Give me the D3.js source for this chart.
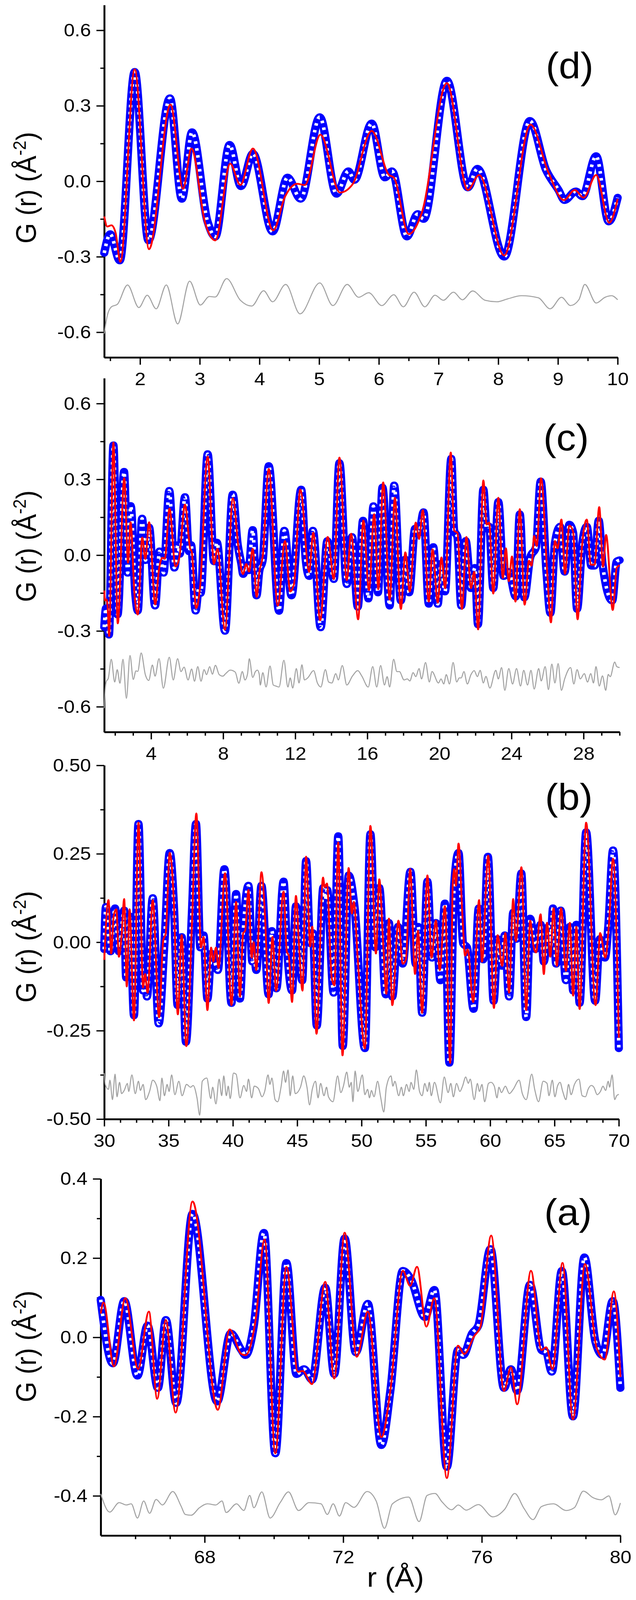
<!DOCTYPE html>
<html>
<head>
<meta charset="utf-8">
<script src="https://cdn.jsdelivr.net/npm/d3@7"></script>
<style>
  html, body { margin: 0; padding: 0; background: #fff; overflow: hidden; }
  svg { display: block; }
  text { font-family: "Liberation Sans", Arial, sans-serif; fill: #000; }
</style>
</head>
<body>
<script>
// ---- data: [r (Å), G(r)] ----
// 1.4 - 10 Å (panel d, also start of panel c)
var obsLow = [[1.40,-0.285],[1.50,-0.21],[1.66,-0.315],[1.91,0.435],[2.14,-0.235],[2.50,0.33],[2.70,-0.07],[2.87,0.195],[3.13,-0.16],[3.26,-0.22],[3.50,0.145],[3.69,-0.02],[3.89,0.11],[4.22,-0.20],[4.47,0.015],[4.69,-0.07],[5.01,0.255],[5.29,-0.05],[5.49,0.04],[5.59,0.005],[5.88,0.23],[6.10,0.015],[6.22,0.04],[6.47,-0.22],[6.65,-0.13],[6.75,-0.15],[7.14,0.40],[7.49,-0.025],[7.65,0.05],[8.10,-0.30],[8.53,0.24],[8.80,0.045],[9.01,-0.035],[9.11,-0.075],[9.30,-0.04],[9.41,-0.06],[9.64,0.10],[9.85,-0.16],[10.0,-0.065]];
var calcLow = [[1.40,-0.14],[1.45,-0.18],[1.52,-0.175],[1.59,-0.205],[1.67,-0.32],[1.91,0.445],[2.15,-0.27],[2.51,0.305],[2.72,-0.03],[2.86,0.13],[3.09,-0.165],[3.26,-0.235],[3.51,0.07],[3.68,-0.015],[3.89,0.13],[4.23,-0.195],[4.43,-0.06],[4.63,-0.01],[4.76,-0.015],[5.02,0.185],[5.35,-0.045],[5.56,-0.012],[5.88,0.20],[6.17,0.025],[6.25,0.015],[6.50,-0.21],[6.72,-0.125],[7.14,0.39],[7.49,-0.035],[7.68,0.025],[8.10,-0.295],[8.54,0.225],[8.84,0.035],[9.10,-0.075],[9.28,-0.035],[9.43,-0.065],[9.64,0.025],[9.86,-0.165],[10.0,-0.07]];
var diffLow = [[1.40,-0.606],[1.45,-0.535],[1.52,-0.499],[1.62,-0.489],[1.79,-0.412],[1.98,-0.502],[2.12,-0.453],[2.27,-0.507],[2.44,-0.412],[2.63,-0.567],[2.83,-0.397],[3.01,-0.492],[3.16,-0.458],[3.26,-0.46],[3.45,-0.387],[3.68,-0.473],[3.87,-0.496],[4.07,-0.435],[4.22,-0.479],[4.44,-0.41],[4.68,-0.527],[5.01,-0.404],[5.23,-0.494],[5.47,-0.41],[5.66,-0.461],[5.83,-0.443],[6.05,-0.494],[6.25,-0.451],[6.41,-0.499],[6.59,-0.441],[6.77,-0.499],[6.94,-0.453],[7.08,-0.473],[7.25,-0.441],[7.40,-0.471],[7.57,-0.436],[7.78,-0.473],[7.98,-0.479],[8.15,-0.468],[8.39,-0.455],[8.67,-0.463],[8.87,-0.507],[9.06,-0.461],[9.21,-0.494],[9.35,-0.471],[9.45,-0.41],[9.64,-0.484],[9.79,-0.461],[9.90,-0.455],[10.0,-0.471]];

// 10 - 30 Å (panel c)
var obsMid = [[10.20,-0.017],[10.53,0.353],[11.10,-0.221],[11.39,0.097],[11.79,-0.16],[12.33,0.26],[12.58,-0.017],[12.77,-0.083],[12.98,0.097],[13.41,-0.286],[13.78,0.056],[14.14,-0.095],[14.45,0.365],[14.86,-0.115],[15.15,0.072],[15.47,-0.205],[15.76,0.137],[16.06,-0.172],[16.34,0.194],[16.59,-0.148],[16.84,0.268],[17.24,-0.20],[17.49,0.276],[17.86,-0.18],[18.11,-0.017],[18.32,-0.148],[18.65,0.105],[18.87,0.089],[19.12,0.17],[19.41,-0.193],[19.66,0.032],[19.91,-0.193],[20.09,-0.034],[20.31,-0.144],[20.66,0.382],[20.82,0.097],[21.0,0.072],[21.21,-0.20],[21.46,0.056],[21.75,-0.131],[21.97,-0.05],[22.14,-0.274],[22.44,0.26],[22.62,0.105],[22.76,0.113],[22.99,-0.131],[23.27,0.211],[23.56,-0.083],[23.85,-0.066],[24.24,-0.164],[24.46,0.162],[24.71,-0.168],[25.04,-0.009],[25.36,0.032],[25.62,0.292],[25.94,-0.066],[26.16,-0.229],[26.41,0.048],[26.70,0.113],[26.95,-0.066],[27.21,0.121],[27.42,0.089],[27.64,-0.213],[27.93,0.048],[28.18,0.113],[28.43,-0.042],[28.61,-0.042],[28.84,0.137],[29.05,-0.034],[29.59,-0.18],[29.84,-0.025],[30.0,-0.02]];
var calcMid = [[10.20,-0.001],[10.53,0.341],[11.03,-0.20],[11.43,0.056],[11.72,-0.144],[11.93,-0.115],[12.28,0.26],[12.77,-0.066],[13.0,0.089],[13.38,-0.258],[13.80,0.072],[14.14,-0.095],[14.45,0.386],[14.86,-0.099],[15.10,0.085],[15.49,-0.254],[15.78,0.137],[16.09,-0.139],[16.38,0.162],[16.61,-0.135],[16.88,0.288],[17.24,-0.176],[17.53,0.227],[17.86,-0.213],[18.11,0.011],[18.35,-0.144],[18.69,0.129],[18.87,0.064],[19.08,0.178],[19.41,-0.184],[19.62,0.023],[19.91,-0.188],[20.11,-0.009],[20.32,-0.131],[20.63,0.406],[20.82,0.097],[21.0,0.088],[21.25,-0.213],[21.50,0.072],[21.75,-0.131],[21.93,-0.066],[22.15,-0.294],[22.44,0.296],[22.62,0.121],[22.76,0.129],[22.99,-0.152],[23.27,0.227],[23.52,-0.09],[23.69,0.027],[23.85,-0.103],[24.03,-0.005],[24.22,-0.184],[24.46,0.182],[24.73,-0.196],[24.97,-0.022],[25.11,-0.042],[25.26,0.076],[25.40,0.036],[25.64,0.304],[25.98,-0.066],[26.19,-0.266],[26.41,0.056],[26.56,0.027],[26.77,0.141],[26.97,-0.074],[27.21,0.117],[27.42,0.093],[27.67,-0.254],[27.89,0.015],[28.18,0.141],[28.40,-0.038],[28.61,-0.038],[28.87,0.19],[29.08,-0.046],[29.25,0.08],[29.62,-0.217],[29.84,-0.05],[30.0,-0.04]];
var diffMid = [[10.06,-0.514],[10.20,-0.465],[10.38,-0.522],[10.60,-0.439],[10.78,-0.514],[10.92,-0.518],[11.10,-0.522],[11.37,-0.416],[11.59,-0.522],[11.72,-0.486],[11.86,-0.526],[12.06,-0.449],[12.21,-0.506],[12.37,-0.434],[12.51,-0.494],[12.69,-0.486],[13.02,-0.457],[13.23,-0.506],[13.42,-0.522],[13.67,-0.453],[13.85,-0.502],[14.03,-0.506],[14.25,-0.469],[14.39,-0.494],[14.61,-0.437],[14.86,-0.514],[15.18,-0.478],[15.47,-0.457],[15.69,-0.478],[16.05,-0.522],[16.30,-0.441],[16.52,-0.522],[16.74,-0.437],[16.95,-0.514],[17.10,-0.481],[17.24,-0.522],[17.46,-0.412],[17.64,-0.461],[17.78,-0.461],[18.04,-0.494],[18.22,-0.49],[18.36,-0.498],[18.54,-0.465],[18.69,-0.481],[18.87,-0.449],[19.01,-0.49],[19.23,-0.425],[19.44,-0.502],[19.59,-0.461],[19.95,-0.506],[20.09,-0.49],[20.24,-0.51],[20.38,-0.473],[20.56,-0.51],[20.76,-0.425],[20.96,-0.502],[21.10,-0.486],[21.21,-0.486],[21.36,-0.461],[21.55,-0.51],[21.75,-0.473],[21.93,-0.457],[22.11,-0.481],[22.26,-0.456],[22.44,-0.506],[22.58,-0.48],[22.80,-0.526],[23.13,-0.456],[23.27,-0.49],[23.45,-0.445],[23.63,-0.535],[23.85,-0.449],[24.06,-0.51],[24.28,-0.449],[24.50,-0.518],[24.68,-0.456],[24.89,-0.514],[25.08,-0.456],[25.26,-0.53],[25.51,-0.449],[25.65,-0.498],[25.87,-0.441],[26.05,-0.532],[26.24,-0.431],[26.41,-0.506],[26.59,-0.429],[26.77,-0.535],[26.95,-0.49],[27.28,-0.445],[27.46,-0.51],[27.64,-0.453],[27.82,-0.49],[28.04,-0.469],[28.22,-0.502],[28.40,-0.469],[28.55,-0.506],[28.69,-0.441],[28.87,-0.518],[29.05,-0.478],[29.23,-0.535],[29.37,-0.472],[29.48,-0.481],[29.73,-0.423],[29.84,-0.441],[30.0,-0.445]];

// 30 - 70 Å (panel b)
var obsHigh = [[30.0,-0.02],[30.13,0.10],[30.49,-0.026],[30.84,0.096],[31.14,-0.026],[31.55,0.09],[31.70,-0.10],[32.0,0.073],[32.31,-0.207],[32.66,0.335],[33.02,-0.137],[33.17,-0.108],[33.32,-0.154],[33.77,0.125],[34.23,-0.23],[34.68,-0.003],[35.09,0.253],[35.44,0.084],[35.70,-0.178],[36.02,0.015],[36.35,-0.282],[36.81,0.079],[37.13,0.335],[37.47,-0.015],[37.72,0.02],[38.02,-0.16],[38.33,-0.032],[38.58,-0.055],[38.83,-0.079],[39.34,0.207],[39.89,-0.172],[40.25,0.137],[40.55,-0.16],[40.80,0.026],[41.21,0.16],[41.51,-0.055],[41.66,-0.04],[41.82,-0.079],[42.22,0.16],[42.78,-0.148],[43.03,0.032],[43.38,-0.131],[43.94,0.172],[44.20,-0.01],[44.60,-0.137],[44.90,0.102],[45.39,-0.108],[45.69,0.23],[46.01,-0.003],[46.22,0.026],[46.52,-0.236],[47.03,0.154],[47.18,0.12],[47.33,0.148],[47.83,-0.143],[48.19,0.30],[48.54,-0.294],[49.0,0.189],[49.45,0.102],[50.26,-0.30],[50.69,0.306],[51.07,-0.015],[51.38,0.154],[51.88,-0.148],[52.13,0.055],[52.39,-0.154],[52.84,0.044],[53.20,-0.061],[53.80,0.20],[54.21,-0.061],[54.41,0.044],[54.71,-0.20],[55.12,0.172],[55.47,-0.044],[55.78,0.055],[56.13,-0.108],[56.48,0.11],[56.83,-0.341],[57.20,0.16],[57.54,0.253],[57.90,-0.003],[58.20,-0.015],[58.71,-0.189],[59.11,0.096],[59.46,-0.049],[59.82,0.242],[60.27,-0.166],[60.58,0.009],[60.88,-0.067],[61.13,0.02],[61.47,-0.154],[61.79,0.084],[62.04,0.009],[62.42,0.195],[62.80,-0.212],[63.11,0.067],[63.51,-0.02],[63.92,0.05],[64.17,-0.055],[64.52,0.044],[64.70,-0.01],[64.88,0.096],[65.13,-0.061],[65.48,0.09],[65.89,-0.108],[66.19,0.044],[66.45,-0.137],[66.70,0.05],[66.95,-0.172],[67.46,0.311],[68.16,-0.166],[68.52,0.009],[68.92,-0.044],[69.18,0.044],[69.55,0.26],[70.0,-0.30]];
var calcHigh = [[30.0,-0.05],[30.33,0.119],[30.54,-0.032],[30.74,0.076],[30.94,0.093],[31.14,-0.041],[31.34,0.015],[31.55,0.122],[31.75,-0.125],[31.97,0.093],[32.31,-0.221],[32.66,0.338],[33.02,-0.128],[33.17,-0.09],[33.37,-0.143],[33.77,0.119],[34.26,-0.212],[34.58,0.003],[34.78,0.026],[35.09,0.253],[35.39,0.131],[35.72,-0.204],[36.02,0.02],[36.38,-0.294],[36.81,0.044],[37.16,0.364],[37.52,-0.015],[37.72,0.015],[38.02,-0.192],[38.31,-0.015],[38.48,-0.055],[38.68,-0.015],[38.88,-0.073],[39.39,0.195],[39.89,-0.178],[40.25,0.114],[40.55,-0.154],[40.80,0.026],[40.95,0.032],[41.21,0.148],[41.46,-0.044],[41.61,0.0],[41.82,-0.079],[42.22,0.198],[42.52,0.055],[42.78,-0.172],[43.08,0.015],[43.36,-0.137],[43.94,0.143],[44.19,-0.026],[44.34,-0.038],[44.60,-0.169],[44.90,0.131],[45.15,-0.015],[45.41,-0.137],[45.69,0.242],[46.01,-0.012],[46.17,0.044],[46.50,-0.259],[47.01,0.183],[47.13,0.155],[47.31,0.166],[47.68,-0.10],[47.89,-0.122],[48.19,0.282],[48.52,-0.32],[49.0,0.21],[49.25,0.081],[49.40,0.114],[49.71,-0.049],[50.26,-0.30],[50.69,0.329],[51.12,-0.032],[51.38,0.178],[51.68,-0.003],[51.93,-0.146],[52.13,0.067],[52.39,-0.178],[52.87,0.061],[53.20,-0.061],[53.45,-0.049],[53.78,0.207],[54.16,-0.09],[54.39,0.032],[54.71,-0.20],[55.12,0.189],[55.44,-0.044],[55.78,0.061],[56.08,-0.079],[56.48,0.102],[56.89,-0.341],[57.09,0.16],[57.22,0.207],[57.34,0.16],[57.54,0.279],[57.85,0.067],[58.05,-0.038],[58.25,-0.02],[58.68,-0.169],[59.14,0.119],[59.36,-0.055],[59.85,0.245],[60.29,-0.186],[60.58,0.02],[60.93,-0.067],[61.18,0.026],[61.47,-0.143],[61.79,0.122],[62.0,0.003],[62.43,0.212],[62.80,-0.192],[63.11,0.061],[63.36,-0.009],[63.56,-0.029],[63.92,0.079],[64.17,-0.09],[64.42,0.055],[64.67,-0.041],[64.93,0.096],[65.18,-0.067],[65.51,0.096],[65.89,-0.081],[66.19,0.055],[66.45,-0.151],[66.70,0.044],[66.95,-0.189],[67.46,0.338],[68.19,-0.178],[68.55,0.026],[68.95,-0.044],[69.23,0.05],[69.55,0.236],[70.0,-0.27]];
var diffHigh = [[30.0,-0.37],[30.08,-0.402],[30.33,-0.416],[30.44,-0.39],[30.64,-0.445],[30.84,-0.373],[30.99,-0.437],[31.19,-0.396],[31.35,-0.428],[31.55,-0.419],[31.80,-0.399],[31.90,-0.422],[32.15,-0.375],[32.41,-0.428],[32.66,-0.393],[32.81,-0.419],[33.02,-0.402],[33.22,-0.445],[33.52,-0.422],[33.77,-0.39],[34.08,-0.407],[34.33,-0.448],[34.48,-0.384],[34.68,-0.434],[34.89,-0.402],[35.04,-0.422],[35.24,-0.375],[35.49,-0.431],[35.80,-0.393],[36.05,-0.434],[36.40,-0.402],[36.71,-0.41],[36.91,-0.405],[37.21,-0.44],[37.42,-0.489],[37.62,-0.393],[37.97,-0.384],[38.28,-0.442],[38.43,-0.41],[38.68,-0.457],[38.93,-0.387],[39.13,-0.434],[39.29,-0.378],[39.49,-0.434],[39.64,-0.407],[39.79,-0.442],[40.05,-0.37],[40.25,-0.373],[40.55,-0.44],[40.85,-0.405],[41.06,-0.422],[41.21,-0.387],[41.46,-0.44],[41.66,-0.407],[41.97,-0.413],[42.27,-0.437],[42.47,-0.422],[42.73,-0.375],[42.88,-0.402],[43.03,-0.384],[43.28,-0.445],[43.48,-0.451],[43.74,-0.41],[43.94,-0.364],[44.09,-0.396],[44.29,-0.361],[44.45,-0.434],[44.65,-0.378],[44.85,-0.428],[45.25,-0.41],[45.51,-0.378],[45.76,-0.41],[45.96,-0.46],[46.17,-0.416],[46.42,-0.393],[46.62,-0.44],[46.82,-0.399],[47.08,-0.434],[47.28,-0.41],[47.43,-0.437],[47.78,-0.451],[48.14,-0.378],[48.39,-0.425],[48.59,-0.407],[48.85,-0.367],[49.05,-0.41],[49.20,-0.396],[49.33,-0.451],[49.50,-0.364],[49.71,-0.422],[50.06,-0.375],[50.26,-0.431],[50.47,-0.416],[50.62,-0.44],[50.77,-0.419],[50.97,-0.437],[51.25,-0.393],[51.48,-0.437],[51.73,-0.48],[51.93,-0.41],[52.29,-0.378],[52.44,-0.407],[52.59,-0.393],[52.89,-0.434],[53.10,-0.41],[53.25,-0.434],[53.50,-0.402],[53.70,-0.422],[53.85,-0.396],[54.06,-0.416],[54.26,-0.361],[54.51,-0.422],[54.71,-0.434],[54.92,-0.399],[55.12,-0.422],[55.27,-0.396],[55.42,-0.434],[55.67,-0.396],[56.13,-0.454],[56.43,-0.381],[56.73,-0.425],[56.94,-0.399],[57.14,-0.437],[57.39,-0.399],[57.64,-0.422],[57.85,-0.407],[58.10,-0.381],[58.30,-0.399],[58.45,-0.387],[58.76,-0.445],[59.01,-0.399],[59.16,-0.422],[59.36,-0.402],[59.57,-0.451],[59.87,-0.399],[60.07,-0.396],[60.32,-0.407],[60.53,-0.44],[60.68,-0.41],[60.88,-0.425],[61.18,-0.407],[61.49,-0.428],[61.79,-0.416],[62.25,-0.39],[62.50,-0.428],[62.80,-0.445],[63.23,-0.373],[63.46,-0.416],[63.76,-0.451],[64.12,-0.393],[64.42,-0.399],[64.57,-0.434],[64.83,-0.39],[65.03,-0.437],[65.23,-0.407],[65.43,-0.396],[65.64,-0.422],[65.89,-0.445],[66.09,-0.402],[66.29,-0.431],[66.55,-0.402],[66.90,-0.387],[67.15,-0.434],[67.41,-0.437],[67.61,-0.416],[67.86,-0.405],[68.06,-0.41],[68.32,-0.431],[68.57,-0.422],[68.77,-0.407],[68.97,-0.419],[69.18,-0.393],[69.28,-0.41],[69.48,-0.375],[69.68,-0.445],[69.83,-0.434],[70.0,-0.43]];

// 65 - 80 Å (panel a)
var obsTail = [[65.0,0.095],[65.35,-0.066],[65.68,0.092],[66.06,-0.097],[66.35,0.03],[66.65,-0.128],[66.88,0.044],[67.18,-0.166],[67.65,0.312],[68.36,-0.162],[68.75,0.01],[69.06,-0.032],[69.18,-0.045],[69.42,0.03],[69.71,0.264],[70.04,-0.293],[70.36,0.188],[70.65,-0.093],[70.87,-0.08],[71.10,-0.107],[71.48,0.126],[71.74,-0.093],[72.04,0.25],[72.36,-0.038],[72.71,0.085],[73.10,-0.272],[73.36,-0.135],[73.72,0.168],[73.95,0.147],[74.36,0.051],[74.63,0.12],[74.99,-0.327],[75.31,-0.032],[75.46,-0.045],[75.72,0.01],[75.90,0.03],[76.25,0.223],[76.64,-0.128],[76.84,-0.08],[77.02,-0.135],[77.39,0.133],[77.72,-0.032],[77.86,-0.038],[78.02,-0.087],[78.31,0.168],[78.63,-0.20],[78.96,0.202],[79.28,-0.011],[79.49,-0.045],[79.78,0.092],[80.0,-0.128]];
var calcTail = [[65.0,0.06],[65.08,0.088],[65.38,-0.073],[65.71,0.099],[66.08,-0.08],[66.39,0.065],[66.63,-0.155],[66.88,0.044],[67.16,-0.19],[67.65,0.343],[68.38,-0.183],[68.72,0.02],[69.06,-0.042],[69.18,-0.045],[69.47,0.044],[69.73,0.247],[70.04,-0.293],[70.36,0.178],[70.69,-0.087],[70.83,-0.085],[71.10,-0.118],[71.48,0.14],[71.74,-0.104],[72.04,0.264],[72.39,-0.049],[72.71,0.065],[73.10,-0.252],[73.36,-0.135],[73.72,0.168],[73.93,0.13],[74.13,0.178],[74.40,0.027],[74.63,0.099],[74.99,-0.355],[75.31,-0.021],[75.49,-0.042],[75.78,0.003],[75.96,0.027],[76.27,0.257],[76.64,-0.135],[76.84,-0.076],[77.02,-0.169],[77.42,0.168],[77.72,-0.032],[77.86,-0.025],[78.04,-0.08],[78.33,0.188],[78.63,-0.207],[78.98,0.185],[79.31,-0.025],[79.55,-0.056],[79.81,0.116],[80.0,-0.10]];
var diffTail = [[65.0,-0.395],[65.26,-0.441],[65.53,-0.417],[65.74,-0.423],[65.88,-0.42],[66.06,-0.456],[66.24,-0.413],[66.41,-0.444],[66.60,-0.409],[66.78,-0.423],[67.08,-0.389],[67.32,-0.426],[67.44,-0.447],[67.61,-0.449],[67.85,-0.43],[68.08,-0.42],[68.32,-0.423],[68.50,-0.413],[68.62,-0.442],[68.92,-0.42],[69.13,-0.437],[69.30,-0.399],[69.42,-0.43],[69.65,-0.39],[69.89,-0.456],[70.18,-0.417],[70.42,-0.39],[70.71,-0.437],[71.01,-0.417],[71.36,-0.42],[71.54,-0.447],[71.71,-0.42],[71.89,-0.451],[72.07,-0.417],[72.31,-0.429],[72.69,-0.389],[72.95,-0.413],[73.19,-0.482],[73.42,-0.42],[73.89,-0.403],[74.19,-0.465],[74.42,-0.399],[74.65,-0.394],[74.85,-0.415],[75.13,-0.435],[75.32,-0.423],[75.55,-0.436],[75.90,-0.422],[76.32,-0.453],[76.66,-0.434],[76.95,-0.394],[77.22,-0.432],[77.48,-0.46],[77.72,-0.427],[78.07,-0.42],[78.43,-0.437],[78.67,-0.43],[78.93,-0.388],[79.22,-0.405],[79.45,-0.41],[79.67,-0.40],[79.85,-0.448],[80.0,-0.418]];

// ---- axis ticks ----
var xMajorD = [2, 3, 4, 5, 6, 7, 8, 9, 10];
var xMinorD = [1.5, 2.5, 3.5, 4.5, 5.5, 6.5, 7.5, 8.5, 9.5];
var xMajorC = [4, 8, 12, 16, 20, 24, 28];
var xMinorC = [2, 3, 5, 6, 7, 9, 10, 11, 13, 14, 15, 17, 18, 19, 21, 22, 23, 25, 26, 27, 29, 30];
var xMajorB = [30, 35, 40, 45, 50, 55, 60, 65, 70];
var xMinorB = [31.25, 32.5, 33.75, 36.25, 37.5, 38.75, 41.25, 42.5, 43.75, 46.25, 47.5, 48.75, 51.25, 52.5, 53.75, 56.25, 57.5, 58.75, 61.25, 62.5, 63.75, 66.25, 67.5, 68.75];
var xMajorA = [68, 72, 76, 80];
var xMinorA = [66, 67, 69, 70, 71, 73, 74, 75, 77, 78, 79];
var yMajorDC = [-0.6, -0.3, 0, 0.3, 0.6];
var yMinorDC = [-0.45, -0.15, 0.15, 0.45];
var yMajorB = [-0.5, -0.25, 0, 0.25, 0.5];
var yMinorB = [-0.375, -0.125, 0.125, 0.375];
var yMajorA = [-0.4, -0.2, 0, 0.2, 0.4];
var yMinorA = [-0.3, -0.1, 0.1, 0.3];
var panelNames = ["(d)", "(c)", "(b)", "(a)"];

// the figure is laid out on a 1629 x 4365 sheet and fitted into the visible window
var W = 1629, H = 4365;
var viewH = Math.min(window.innerHeight || H, H);
var svg = d3.select("body").append("svg")
  .attr("width", W).attr("height", viewH)
  .attr("viewBox", "0 0 " + W + " " + H)
  .attr("preserveAspectRatio", "none");

var panels = [
  { name: panelNames[0], obs: obsLow, calc: calcLow, diff: diffLow,
    xDomain: [1.4, 10], yDomain: [-0.7, 0.7], left: 267, right: 1582, top: 14, bottom: 975,
    xMajor: xMajorD, xMinor: xMinorD, yMajor: yMajorDC, yMinor: yMinorDC, yFmt: ".1f",
    labelX: 1459, labelY: 214, titleY: 512 },
  { name: panelNames[1], obs: obsLow.concat(obsMid), calc: calcLow.concat(calcMid), diff: diffLow.concat(diffMid),
    xDomain: [1.4, 30], yDomain: [-0.7, 0.7], left: 267, right: 1587, top: 1032, bottom: 1997,
    xMajor: xMajorC, xMinor: xMinorC, yMajor: yMajorDC, yMinor: yMinorDC, yFmt: ".1f",
    labelX: 1450, labelY: 1229, titleY: 1490 },
  { name: panelNames[2], obs: obsHigh, calc: calcHigh, diff: diffHigh,
    xDomain: [30, 70], yDomain: [-0.5, 0.5], left: 267, right: 1585, top: 2088, bottom: 3053,
    xMajor: xMajorB, xMinor: xMinorB, yMajor: yMajorB, yMinor: yMinorB, yFmt: ".2f",
    labelX: 1457, labelY: 2209, titleY: 2583 },
  { name: panelNames[3], obs: obsTail, calc: calcTail, diff: diffTail,
    xDomain: [65, 80], yDomain: [-0.5, 0.4], left: 258, right: 1589, top: 3216, bottom: 4189,
    xMajor: xMajorA, xMinor: xMinorA, yMajor: yMajorA, yMinor: yMinorA, yFmt: ".1f",
    labelX: 1455, labelY: 3342, titleY: 3673 }
];

function styleAxis(g) {
  g.selectAll(".domain").attr("stroke", "#000").attr("stroke-width", 4.5);
  g.selectAll(".tick line").attr("stroke", "#000").attr("stroke-width", 3.5);
  g.selectAll(".tick text").attr("font-family", null).style("font-size", "50px").attr("fill", "#000");
}

function drawPanel(p) {
  var x = d3.scaleLinear().domain(p.xDomain).range([p.left, p.right]);
  var y = d3.scaleLinear().domain(p.yDomain).range([p.bottom, p.top]);
  var fmt = function(v) { return d3.format(p.yFmt)(v).replace("\u2212", "-"); };

  var g = svg.append("g");

  // minor ticks first, major on top
  g.append("g").attr("transform", "translate(0," + p.bottom + ")")
    .call(d3.axisBottom(x).tickValues(p.xMinor).tickSize(10).tickSizeOuter(0).tickFormat(""))
    .call(styleAxis);
  g.append("g").attr("transform", "translate(0," + p.bottom + ")")
    .call(d3.axisBottom(x).tickValues(p.xMajor).tickSize(20).tickSizeOuter(0).tickPadding(20).tickFormat(d3.format("d")))
    .call(styleAxis);
  g.append("g").attr("transform", "translate(" + p.left + ",0)")
    .call(d3.axisLeft(y).tickValues(p.yMinor).tickSize(10).tickSizeOuter(0).tickFormat(""))
    .call(styleAxis);
  g.append("g").attr("transform", "translate(" + p.left + ",0)")
    .call(d3.axisLeft(y).tickValues(p.yMajor).tickSize(20).tickSizeOuter(0).tickPadding(14).tickFormat(fmt))
    .call(styleAxis);

  var line = d3.line()
    .x(function(d) { return x(d[0]); })
    .y(function(d) { return y(d[1]); })
    .curve(d3.curveMonotoneX);

  // observed: thick blue band of hollow circles
  g.append("path").datum(p.obs).attr("d", line)
    .attr("fill", "none").attr("stroke", "#0000ff").attr("stroke-width", 21)
    .attr("stroke-linejoin", "round").attr("stroke-linecap", "round");
  g.append("path").datum(p.obs).attr("d", line)
    .attr("fill", "none").attr("stroke", "#ffffff").attr("stroke-width", 9)
    .attr("stroke-dasharray", "7 12");

  // calculated
  g.append("path").datum(p.calc).attr("d", line)
    .attr("fill", "none").attr("stroke", "#ff0000").attr("stroke-width", 4.8)
    .attr("stroke-linejoin", "round");

  // difference
  g.append("path").datum(p.diff).attr("d", line)
    .attr("fill", "none").attr("stroke", "#a3a3a3").attr("stroke-width", 2.7)
    .attr("stroke-linejoin", "round");

  // panel letter
  svg.append("text").attr("x", p.labelX).attr("y", p.labelY)
    .attr("text-anchor", "middle").style("font-size", "100px").text(p.name);

  // y title
  var t = svg.append("text")
    .attr("transform", "translate(92," + p.titleY + ") rotate(-90)")
    .attr("text-anchor", "middle").style("font-size", "72px");
  t.append("tspan").text("G (r) (\u00C5");
  t.append("tspan").attr("dy", -26).style("font-size", "46px").text("-2");
  t.append("tspan").attr("dy", 26).text(")");
}

panels.forEach(drawPanel);

// x title
svg.append("text").attr("x", 1013).attr("y", 4329).attr("text-anchor", "middle")
  .style("font-size", "75px").text("r (\u00C5)");
</script>
</body>
</html>
